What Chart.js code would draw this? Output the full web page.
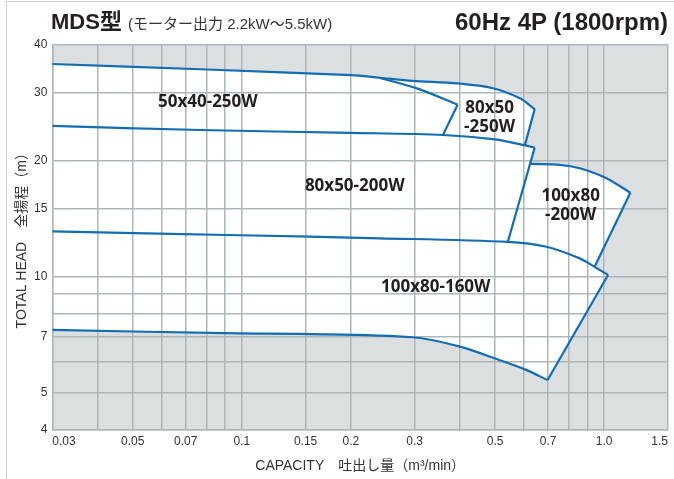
<!DOCTYPE html>
<html>
<head>
<meta charset="utf-8">
<script src="https://cdn.jsdelivr.net/npm/chart.js@4/dist/chart.umd.min.js"></script>
<style>
  html, body { margin: 0; padding: 0; background: #fff; }
  #wrap { position: relative; width: 674px; height: 479px; overflow: hidden; }
  #frame { position: absolute; left: 6px; top: 1px; width: 720px; height: 520px; border: 1.5px solid #c9ced1; box-sizing: border-box; }
  canvas { position: absolute; left: 0; top: 0; }
  #head-left { position: absolute; left: 51px; top: 11px; line-height: 22px; font-size: 22px; font-weight: bold; color: #231f20;
    font-family: "Liberation Sans", "Noto Sans CJK JP", sans-serif; white-space: nowrap; }
  #head-left span { font-size: 15px; font-weight: normal; color: #333; font-family: "Liberation Sans", "Noto Sans CJK JP", sans-serif; }
  #head-right { position: absolute; right: 6px; top: 10px; line-height: 24px; font-size: 24px; font-weight: bold; color: #231f20;
    font-family: "Liberation Sans", sans-serif; white-space: nowrap; }
</style>
</head>
<body>
<div id="wrap">
  <div id="frame"></div>
  <canvas id="pumpChart" width="674" height="479"></canvas>
  <div id="head-left">MDS型 <span>(モーター出力 2.2kW～5.5kW)</span></div>
  <div id="head-right">60Hz 4P (1800rpm)</div>
</div>
<script>
// axis ticks
const xTicks = [0.03, 0.04, 0.05, 0.06, 0.07, 0.08, 0.09, 0.1, 0.15, 0.2, 0.3, 0.4, 0.5, 0.6, 0.7, 0.8, 0.9, 1.0, 1.5];
const xTickLabels = ["0.03", "0.05", "0.07", "0.1", "0.15", "0.2", "0.3", "0.5", "0.7", "1.0", "1.5"];
const yTicks = [4, 5, 6, 7, 8, 9, 10, 15, 20, 30, 40];
const yTickLabels = ["4", "5", "7", "10", "15", "20", "30", "40"];

// boundary curves, [capacity m3/min, head m]
const curveTop250 = [[0.03, 35.6], [0.077, 34.5], [0.2, 33.3], [0.24, 32.8], [0.296, 32.2], [0.394, 31.7], [0.493, 30.8], [0.585, 29.0], [0.643, 27.2]];
const curveEnd50x40 = [[0.24, 32.8], [0.31, 30.6], [0.394, 27.9]];
const curveTop200 = [[0.03, 24.6], [0.077, 24.0], [0.2, 23.6], [0.359, 23.3], [0.5, 22.7], [0.604, 21.9], [0.643, 21.6]];
const curveTop100x80_200 = [[0.627, 19.6], [0.754, 19.5], [0.856, 19.1], [1.014, 18.0], [1.181, 16.5]];
const curveTop160 = [[0.03, 13.1], [0.099, 12.8], [0.24, 12.57], [0.542, 12.3], [0.693, 11.95], [0.856, 11.15], [0.941, 10.6], [1.025, 10.1]];
const curveBottom160 = [[0.03, 7.27], [0.099, 7.12], [0.145, 7.1], [0.296, 6.96], [0.4, 6.58], [0.515, 6.07], [0.611, 5.72], [0.698, 5.39]];

// straight end lines
const edge50x40 = [[0.394, 27.9], [0.359, 23.3]];
const edge80x50_250 = [[0.643, 27.2], [0.604, 21.9]];
const edge80x50_200 = [[0.643, 21.6], [0.542, 12.3]];
const edge100x80_200 = [[1.181, 16.5], [0.941, 10.6]];
const edge100x80_160 = [[1.025, 10.1], [0.698, 5.39]];

// model names
const modelNames = [["50x40-250W"], ["80x50", "-250W"], ["80x50-200W"], ["100x80", "-200W"], ["100x80-160W"]];
const modelAt = [[0.0806, 28.4], [0.483, 25.8], [0.205, 17.2], [0.808, 15.25], [0.343, 9.37]];

const BLUE = "#136db3";
const GRID = "#adb7ba";

// white area = outline of all the models together
const outline = [].concat(
  curveTop250,
  [edge80x50_250[1]],
  [curveTop200[curveTop200.length - 1]],
  curveTop100x80_200,
  [edge100x80_200[1]],
  [curveTop160[curveTop160.length - 1]],
  curveBottom160.slice().reverse()
);

function toPoints(list) {
  return list.map(function (p) {
    return { x: p[0], y: p[1] };
  });
}

function lineSet(list, tension) {
  return {
    data: toPoints(list),
    showLine: true,
    fill: false,
    borderColor: BLUE,
    borderWidth: 2.2,
    pointRadius: 0,
    tension: tension
  };
}

const areaPlugin = {
  id: "areaPlugin",
  beforeDraw: function (chart) {
    const ctx = chart.ctx;
    const area = chart.chartArea;
    const sx = chart.scales.x;
    const sy = chart.scales.y;
    ctx.save();
    ctx.fillStyle = "#dcdfdf";
    ctx.fillRect(area.left, area.top, area.right - area.left, area.bottom - area.top);
    ctx.beginPath();
    outline.forEach(function (p, i) {
      const px = sx.getPixelForValue(p[0]);
      const py = sy.getPixelForValue(p[1]);
      if (i === 0) {
        ctx.moveTo(px, py);
      } else {
        ctx.lineTo(px, py);
      }
    });
    ctx.closePath();
    ctx.fillStyle = "#ffffff";
    ctx.fill();
    ctx.restore();
  },
  afterDatasetsDraw: function (chart) {
    const ctx = chart.ctx;
    const sx = chart.scales.x;
    const sy = chart.scales.y;
    ctx.save();
    ctx.fillStyle = "#231f20";
    ctx.font = "bold 17px 'Open Sans', 'Noto Sans', sans-serif";
    ctx.textAlign = "center";
    ctx.textBaseline = "middle";
    modelNames.forEach(function (lines, i) {
      const px = sx.getPixelForValue(modelAt[i][0]);
      const py = sy.getPixelForValue(modelAt[i][1]);
      const top = py - (lines.length - 1) * 9.5;
      lines.forEach(function (t, j) {
        ctx.fillText(t, px, top + j * 19);
      });
    });
    ctx.restore();
  }
};

function pickLabel(labels, value) {
  for (let i = 0; i < labels.length; i++) {
    if (Math.abs(Number(labels[i]) - value) < 1e-9) {
      return labels[i];
    }
  }
  return "";
}

const tickFont = { family: "'Liberation Sans', Arial, sans-serif", size: 12 };
const titleFont = { family: "'Liberation Sans', 'Noto Sans CJK JP', sans-serif", size: 14 };

new Chart(document.getElementById("pumpChart").getContext("2d"), {
  type: "scatter",
  data: {
    datasets: [
      lineSet(curveTop250, 0.3),
      lineSet(curveEnd50x40, 0.3),
      lineSet(curveTop200, 0.3),
      lineSet(curveTop100x80_200, 0.3),
      lineSet(curveTop160, 0.3),
      lineSet(curveBottom160, 0.3),
      lineSet(edge50x40, 0),
      lineSet(edge80x50_250, 0),
      lineSet(edge80x50_200, 0),
      lineSet(edge100x80_200, 0),
      lineSet(edge100x80_160, 0)
    ]
  },
  options: {
    responsive: false,
    animation: false,
    layout: { padding: { left: 0, right: 6, top: 44.5, bottom: 0 } },
    plugins: {
      legend: { display: false },
      tooltip: { enabled: false }
    },
    scales: {
      x: {
        type: "logarithmic",
        min: 0.03,
        max: 1.5,
        afterBuildTicks: function (scale) {
          scale.ticks = xTicks.map(function (v) { return { value: v }; });
        },
        afterFit: function (scale) {
          scale.height = 49;
        },
        ticks: {
          autoSkip: false,
          maxRotation: 0,
          align: "inner",
          padding: 4,
          color: "#333",
          font: tickFont,
          callback: function (value) {
            return pickLabel(xTickLabels, value);
          }
        },
        grid: { color: GRID, lineWidth: 1.5, drawTicks: false },
        border: { color: GRID, width: 1.5 },
        title: {
          display: true,
          text: "CAPACITY　吐出し量（m³/min）",
          color: "#333",
          font: titleFont,
          padding: { top: 0, bottom: 4 }
        }
      },
      y: {
        type: "logarithmic",
        min: 4,
        max: 40,
        afterBuildTicks: function (scale) {
          scale.ticks = yTicks.map(function (v) { return { value: v }; });
        },
        afterFit: function (scale) {
          scale.width = 52.3;
        },
        ticks: {
          autoSkip: false,
          padding: 5,
          color: "#333",
          font: tickFont,
          callback: function (value) {
            return pickLabel(yTickLabels, value);
          }
        },
        grid: { color: GRID, lineWidth: 1.5, drawTicks: false },
        border: { color: GRID, width: 1.5 },
        title: {
          display: true,
          text: "TOTAL HEAD　全揚程（m）",
          color: "#333",
          font: titleFont,
          padding: { top: 14, bottom: 0 }
        }
      }
    }
  },
  plugins: [areaPlugin]
});
</script>
</body>
</html>
